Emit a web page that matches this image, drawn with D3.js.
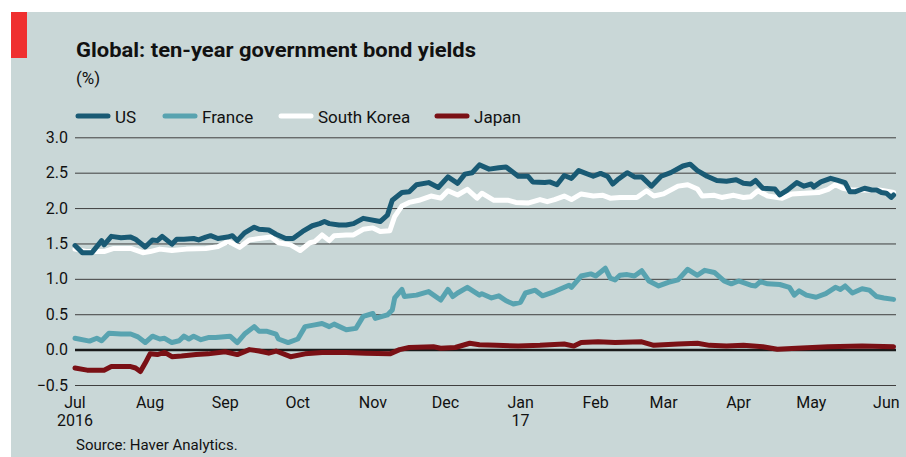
<!DOCTYPE html>
<html>
<head>
<meta charset="utf-8">
<script src="https://cdn.jsdelivr.net/npm/d3@7"></script>
<style>
  html, body { margin: 0; padding: 0; background: #fff; }
  svg { display: block; font-family: Roboto, "Liberation Sans", sans-serif; }
</style>
</head>
<body>
<div id="chart"></div>
<script>
// ten-year yields (date, %)
var usData = [
  ["2016-07-01",1.47],["2016-07-04",1.37],["2016-07-08",1.37],["2016-07-12",1.54],["2016-07-13",1.48],
  ["2016-07-16",1.60],["2016-07-20",1.58],["2016-07-24",1.59],["2016-07-26",1.56],["2016-07-30",1.45],
  ["2016-08-02",1.55],["2016-08-04",1.54],["2016-08-06",1.60],["2016-08-10",1.49],["2016-08-12",1.56],
  ["2016-08-15",1.56],["2016-08-19",1.57],["2016-08-21",1.55],["2016-08-24",1.59],["2016-08-26",1.61],
  ["2016-08-29",1.57],["2016-09-02",1.59],["2016-09-04",1.61],["2016-09-06",1.54],["2016-09-09",1.65],
  ["2016-09-13",1.73],["2016-09-15",1.70],["2016-09-19",1.69],["2016-09-22",1.63],["2016-09-26",1.57],
  ["2016-09-29",1.57],["2016-10-03",1.67],["2016-10-07",1.75],["2016-10-10",1.78],["2016-10-12",1.81],
  ["2016-10-14",1.78],["2016-10-18",1.76],["2016-10-21",1.76],["2016-10-24",1.78],["2016-10-28",1.855],
  ["2016-11-04",1.81],["2016-11-07",1.90],["2016-11-09",2.11],["2016-11-13",2.22],["2016-11-16",2.23],
  ["2016-11-19",2.33],["2016-11-24",2.36],["2016-11-28",2.29],["2016-12-02",2.44],["2016-12-06",2.35],
  ["2016-12-09",2.48],["2016-12-12",2.50],["2016-12-15",2.61],["2016-12-19",2.55],["2016-12-23",2.57],
  ["2016-12-26",2.58],["2016-12-31",2.45],["2017-01-04",2.45],["2017-01-06",2.37],["2017-01-11",2.36],
  ["2017-01-13",2.37],["2017-01-16",2.33],["2017-01-19",2.46],["2017-01-22",2.42],["2017-01-25",2.53],
  ["2017-01-31",2.45],["2017-02-03",2.49],["2017-02-06",2.445],["2017-02-08",2.34],["2017-02-10",2.40],
  ["2017-02-14",2.50],["2017-02-17",2.44],["2017-02-20",2.44],["2017-02-24",2.31],["2017-02-28",2.45],
  ["2017-03-04",2.50],["2017-03-09",2.595],["2017-03-12",2.62],["2017-03-15",2.53],["2017-03-19",2.45],
  ["2017-03-23",2.39],["2017-03-27",2.38],["2017-03-31",2.40],["2017-04-03",2.35],["2017-04-06",2.34],
  ["2017-04-08",2.39],["2017-04-11",2.28],["2017-04-16",2.27],["2017-04-18",2.185],["2017-04-21",2.25],
  ["2017-04-25",2.36],["2017-04-28",2.31],["2017-05-01",2.34],["2017-05-02",2.30],["2017-05-05",2.37],
  ["2017-05-09",2.42],["2017-05-12",2.39],["2017-05-15",2.36],["2017-05-17",2.23],["2017-05-19",2.23],
  ["2017-05-23",2.28],["2017-05-26",2.255],["2017-05-28",2.255],["2017-05-30",2.22],["2017-06-01",2.21],
  ["2017-06-03",2.15],["2017-06-04",2.185]
];

var franceData = [
  ["2016-07-01",0.16],["2016-07-07",0.12],["2016-07-10",0.16],["2016-07-12",0.125],["2016-07-15",0.23],
  ["2016-07-20",0.22],["2016-07-24",0.22],["2016-07-27",0.18],["2016-07-30",0.10],["2016-08-02",0.19],
  ["2016-08-05",0.15],["2016-08-07",0.16],["2016-08-10",0.10],["2016-08-13",0.125],["2016-08-15",0.19],
  ["2016-08-17",0.15],["2016-08-19",0.19],["2016-08-22",0.14],["2016-08-25",0.17],["2016-08-28",0.17],
  ["2016-09-03",0.19],["2016-09-06",0.10],["2016-09-09",0.22],["2016-09-13",0.325],["2016-09-15",0.26],
  ["2016-09-18",0.26],["2016-09-22",0.22],["2016-09-23",0.15],["2016-09-27",0.10],["2016-10-01",0.15],
  ["2016-10-04",0.325],["2016-10-08",0.35],["2016-10-11",0.37],["2016-10-14",0.325],["2016-10-16",0.36],
  ["2016-10-21",0.28],["2016-10-25",0.30],["2016-10-28",0.47],["2016-11-01",0.51],["2016-11-02",0.44],
  ["2016-11-07",0.49],["2016-11-09",0.56],["2016-11-10",0.73],["2016-11-13",0.85],["2016-11-14",0.75],
  ["2016-11-19",0.77],["2016-11-24",0.82],["2016-11-29",0.70],["2016-12-02",0.85],["2016-12-04",0.75],
  ["2016-12-06",0.80],["2016-12-10",0.88],["2016-12-15",0.77],["2016-12-16",0.79],["2016-12-20",0.73],
  ["2016-12-23",0.76],["2016-12-26",0.69],["2016-12-29",0.645],["2017-01-01",0.67],["2017-01-03",0.80],
  ["2017-01-07",0.84],["2017-01-10",0.76],["2017-01-15",0.82],["2017-01-21",0.91],["2017-01-22",0.88],
  ["2017-01-26",1.04],["2017-01-30",1.07],["2017-02-01",1.04],["2017-02-05",1.15],["2017-02-07",1.01],
  ["2017-02-09",0.985],["2017-02-11",1.05],["2017-02-14",1.06],["2017-02-17",1.04],["2017-02-20",1.115],
  ["2017-02-23",0.97],["2017-02-27",0.90],["2017-03-03",0.95],["2017-03-07",0.985],["2017-03-11",1.135],
  ["2017-03-15",1.05],["2017-03-18",1.12],["2017-03-22",1.09],["2017-03-26",0.97],["2017-03-29",0.93],
  ["2017-04-01",0.97],["2017-04-06",0.91],["2017-04-08",0.90],["2017-04-10",0.96],["2017-04-13",0.93],
  ["2017-04-18",0.92],["2017-04-22",0.88],["2017-04-24",0.77],["2017-04-26",0.83],["2017-04-29",0.77],
  ["2017-05-03",0.74],["2017-05-07",0.79],["2017-05-11",0.88],["2017-05-13",0.85],["2017-05-15",0.90],
  ["2017-05-18",0.80],["2017-05-22",0.86],["2017-05-25",0.84],["2017-05-28",0.75],["2017-05-31",0.73],
  ["2017-06-04",0.71]
];

var koreaData = [
  ["2016-07-01",1.42],["2016-07-06",1.385],["2016-07-13",1.385],["2016-07-17",1.43],["2016-07-24",1.43],
  ["2016-07-29",1.37],["2016-08-01",1.385],["2016-08-05",1.42],["2016-08-10",1.40],["2016-08-16",1.42],
  ["2016-08-24",1.43],["2016-08-29",1.455],["2016-09-02",1.525],["2016-09-04",1.50],["2016-09-07",1.445],
  ["2016-09-11",1.55],["2016-09-15",1.57],["2016-09-20",1.59],["2016-09-23",1.51],["2016-09-28",1.48],
  ["2016-10-02",1.40],["2016-10-06",1.51],["2016-10-08",1.525],["2016-10-11",1.62],["2016-10-14",1.54],
  ["2016-10-16",1.61],["2016-10-21",1.62],["2016-10-24",1.62],["2016-10-28",1.70],["2016-11-01",1.72],
  ["2016-11-04",1.67],["2016-11-08",1.68],["2016-11-10",1.88],["2016-11-13",2.03],["2016-11-16",2.08],
  ["2016-11-20",2.11],["2016-11-25",2.17],["2016-11-29",2.14],["2016-12-02",2.245],["2016-12-06",2.185],
  ["2016-12-10",2.265],["2016-12-14",2.14],["2016-12-16",2.21],["2016-12-21",2.11],["2016-12-27",2.11],
  ["2016-12-30",2.08],["2017-01-04",2.07],["2017-01-09",2.12],["2017-01-12",2.09],["2017-01-15",2.12],
  ["2017-01-19",2.17],["2017-01-22",2.12],["2017-01-26",2.20],["2017-01-31",2.17],["2017-02-04",2.18],
  ["2017-02-07",2.14],["2017-02-11",2.15],["2017-02-18",2.15],["2017-02-22",2.245],["2017-02-25",2.17],
  ["2017-03-01",2.20],["2017-03-07",2.31],["2017-03-11",2.33],["2017-03-15",2.27],["2017-03-17",2.17],
  ["2017-03-22",2.18],["2017-03-25",2.15],["2017-03-30",2.18],["2017-04-03",2.15],["2017-04-06",2.16],
  ["2017-04-09",2.245],["2017-04-13",2.17],["2017-04-19",2.14],["2017-04-23",2.20],["2017-04-28",2.21],
  ["2017-05-04",2.22],["2017-05-08",2.265],["2017-05-11",2.33],["2017-05-14",2.28],["2017-05-18",2.255],
  ["2017-05-23",2.255],["2017-05-29",2.255],["2017-05-31",2.245],["2017-06-04",2.22]
];

var japanData = [
  ["2016-07-01",-0.26],["2016-07-06",-0.29],["2016-07-13",-0.29],["2016-07-16",-0.24],["2016-07-24",-0.24],
  ["2016-07-26",-0.26],["2016-07-28",-0.31],["2016-07-30",-0.19],["2016-08-01",-0.06],["2016-08-04",-0.07],
  ["2016-08-07",-0.04],["2016-08-10",-0.10],["2016-08-14",-0.09],["2016-08-20",-0.07],["2016-08-25",-0.06],
  ["2016-09-01",-0.03],["2016-09-06",-0.07],["2016-09-11",0.00],["2016-09-15",-0.02],["2016-09-19",-0.05],
  ["2016-09-22",-0.02],["2016-09-28",-0.10],["2016-10-04",-0.06],["2016-10-11",-0.04],["2016-10-21",-0.04],
  ["2016-10-29",-0.05],["2016-11-08",-0.06],["2016-11-12",0.00],["2016-11-16",0.03],["2016-11-26",0.04],
  ["2016-11-29",0.02],["2016-12-05",0.03],["2016-12-11",0.09],["2016-12-15",0.07],["2016-12-22",0.06],
  ["2016-12-31",0.05],["2017-01-09",0.06],["2017-01-19",0.08],["2017-01-23",0.05],["2017-01-26",0.10],
  ["2017-02-02",0.11],["2017-02-09",0.10],["2017-02-20",0.11],["2017-02-25",0.06],["2017-03-07",0.08],
  ["2017-03-15",0.09],["2017-03-20",0.06],["2017-03-27",0.05],["2017-04-03",0.06],["2017-04-11",0.04],
  ["2017-04-17",0.005],["2017-04-25",0.02],["2017-05-08",0.04],["2017-05-22",0.05],["2017-06-04",0.04]
];

var seriesNames = ["US", "France", "South Korea", "Japan"];
var seriesColors = ["#195a74", "#58a3b0", "#ffffff", "#7a1015"];
var yTicks = [-0.5, 0, 0.5, 1.0, 1.5, 2.0, 2.5, 3.0];
var monthLabels = ["Jul", "Aug", "Sep", "Oct", "Nov", "Dec", "Jan", "Feb", "Mar", "Apr", "May", "Jun"];
var yearLabels = ["2016", "", "", "", "", "", "17", "", "", "", "", ""];

var width = 906, height = 457;
var parse = d3.timeParse("%Y-%m-%d");

var svg = d3.select("#chart").append("svg")
    .attr("width", width)
    .attr("height", height);

// panel + red tag
svg.append("rect").attr("x", 11).attr("y", 12).attr("width", width - 11).attr("height", height - 12)
    .attr("fill", "#c9d7d7");
svg.append("rect").attr("x", 11).attr("y", 12).attr("width", 16).attr("height", 46)
    .attr("fill", "#ef2f2f");

svg.append("text").attr("x", 76).attr("y", 57)
    .attr("font-size", 21).attr("font-weight", "bold").attr("fill", "#111")
    .attr("textLength", 400).attr("lengthAdjust", "spacingAndGlyphs")
    .text("Global: ten-year government bond yields");
svg.append("text").attr("x", 76).attr("y", 84)
    .attr("font-size", 17).attr("fill", "#111")
    .text("(%)");

var x = d3.scaleTime()
    .domain([parse("2016-07-01"), parse("2017-06-05")])
    .range([75, 896]);
var y = d3.scaleLinear()
    .domain([-0.5, 3.0])
    .range([385, 137.3]);

// gridlines + y labels
var yAxis = svg.append("g")
    .attr("transform", "translate(75,0)")
    .call(d3.axisLeft(y).tickValues(yTicks).tickSize(-821).tickPadding(7).tickFormat(d3.format(".1f")));
yAxis.select(".domain").remove();
yAxis.selectAll(".tick line")
    .attr("stroke", function (d) { return d === 0 ? "#1a1a1a" : "#3f3f3f"; })
    .attr("stroke-width", function (d) { return d === 0 ? 2.5 : 1; });
yAxis.selectAll(".tick text")
    .attr("font-size", 16).attr("fill", "#111").attr("font-family", "Roboto, sans-serif");

// month labels
var months = d3.timeMonth.range(parse("2016-07-01"), parse("2017-06-05"));
var xl = svg.append("g");
months.forEach(function (m, i) {
    var t = xl.append("text").attr("x", x(m)).attr("y", 408)
        .attr("text-anchor", "middle").attr("font-size", 16).attr("fill", "#111");
    t.append("tspan").attr("x", x(m)).text(monthLabels[i]);
    if (yearLabels[i]) t.append("tspan").attr("x", x(m)).attr("dy", 18).text(yearLabels[i]);
});

// lines
var line = d3.line()
    .x(function (d) { return x(parse(d[0])); })
    .y(function (d) { return y(d[1]); });

var allData = [usData, franceData, koreaData, japanData];
var drawOrder = [2, 0, 1, 3];
drawOrder.forEach(function (i) {
    svg.append("path")
        .datum(allData[i])
        .attr("d", line)
        .attr("fill", "none")
        .attr("stroke", seriesColors[i])
        .attr("stroke-width", 5)
        .attr("stroke-linejoin", "round")
        .attr("stroke-linecap", "round");
});

// legend
var legendX = [78, 165, 281, 437];
var leg = svg.append("g");
seriesNames.forEach(function (name, i) {
    leg.append("line")
        .attr("x1", legendX[i]).attr("x2", legendX[i] + 30)
        .attr("y1", 116).attr("y2", 116)
        .attr("stroke", seriesColors[i]).attr("stroke-width", 5).attr("stroke-linecap", "round");
    leg.append("text").attr("x", legendX[i] + 37).attr("y", 123)
        .attr("font-size", 17).attr("fill", "#111").text(name);
});

svg.append("text").attr("x", 76).attr("y", 450)
    .attr("font-size", 15).attr("fill", "#111")
    .text("Source: Haver Analytics.");
</script>
</body>
</html>
